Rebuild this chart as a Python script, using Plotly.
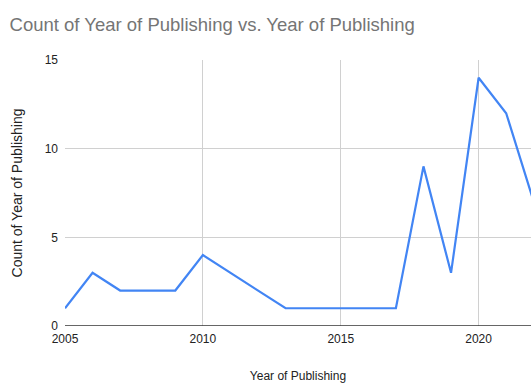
import plotly.graph_objects as go

years = [2005, 2006, 2007, 2008, 2009, 2010, 2011, 2012, 2013, 2014, 2015, 2016, 2017, 2018, 2019, 2020, 2021, 2022]
counts = [1, 3, 2, 2, 2, 4, 3, 2, 1, 1, 1, 1, 1, 9, 3, 14, 12, 7]

x_ticks = [2005, 2010, 2015, 2020]
y_ticks = [0, 5, 10, 15]

fig = go.Figure()
fig.add_trace(go.Scatter(x=years, y=counts, mode="lines",
                         line=dict(color="#4285F4", width=2.2), hoverinfo="skip"))

fig.update_layout(
    width=531, height=383,
    margin=dict(l=65, r=0, t=60, b=57),
    paper_bgcolor="white", plot_bgcolor="white",
    showlegend=False,
    font=dict(family="Liberation Sans, Arial, sans-serif", color="#222222", size=12),
    title=dict(text="Count of Year of Publishing vs. Year of Publishing",
               x=0.018, xanchor="left", y=0.935, yanchor="middle",
               font=dict(size=18.5, color="#757575")),
    xaxis=dict(range=[2005, 2021.9], tickvals=x_ticks, ticktext=[str(t) for t in x_ticks],
               showgrid=True, gridcolor="#d0d0d0", gridwidth=1, zeroline=False,
               showline=False, ticks="", ticklabelstandoff=4,
               title=dict(text="Year of Publishing", standoff=26, font=dict(size=12, color="#222222"))),
    yaxis=dict(range=[0, 15], tickvals=y_ticks, ticktext=[str(t) for t in y_ticks],
               showgrid=True, gridcolor="#d0d0d0", gridwidth=1, zeroline=False,
               showline=False, ticks="", ticklabelstandoff=6,
               title=dict(text="Count of Year of Publishing", standoff=18, font=dict(size=14, color="#222222"))),
    shapes=[dict(type="line", xref="paper", yref="y", x0=0, x1=1, y0=0, y1=0,
                 line=dict(color="#333333", width=1.5))],
)

fig.write_html("out.html", config={"displayModeBar": False, "staticPlot": True},
               post_script="document.body.style.margin='0';document.body.style.padding='0';document.body.style.overflow='hidden';")
